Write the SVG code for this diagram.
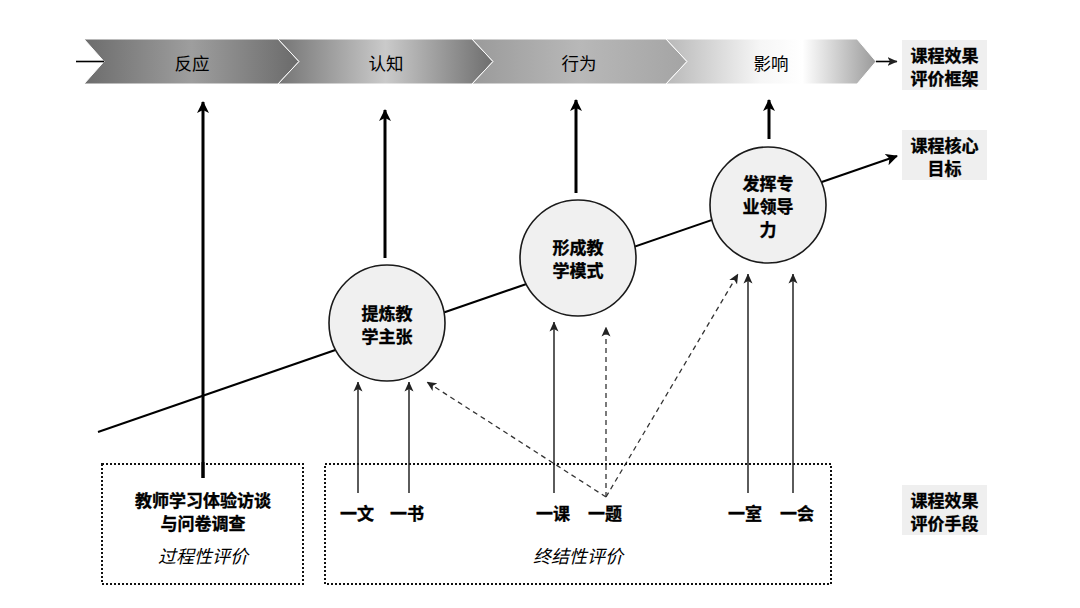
<svg xmlns="http://www.w3.org/2000/svg" width="1080" height="608" viewBox="0 0 1080 608">
<style>
.t{font-family:"Noto Sans CJK SC","Noto Sans",sans-serif;fill:#000;text-anchor:middle;dominant-baseline:central}
.b{font-weight:bold;font-size:17px;stroke:#000;stroke-width:0.35}
.n{font-size:17.5px}
.i{font-size:18px;font-style:italic}
.chev{stroke:#fff;stroke-width:1}
.circ{fill:#f0f0f0;stroke:#1a1a1a;stroke-width:1.6}
.thick{stroke:#000;stroke-width:3;fill:none}
.thin{stroke:#333;stroke-width:1.6;fill:none}
.dash{stroke:#333;stroke-width:1.3;fill:none;stroke-dasharray:5 4}
.dot{fill:none;stroke:#111;stroke-width:2;stroke-dasharray:2 2}
.lab{fill:#efefef}
</style>
<defs>
<linearGradient id="g1" x1="0" y1="0" x2="1" y2="0">
<stop offset="0" stop-color="#6c6c6c"/><stop offset="0.5" stop-color="#9e9e9e"/><stop offset="1" stop-color="#6a6a6a"/>
</linearGradient>
<linearGradient id="g2" x1="0" y1="0" x2="1" y2="0">
<stop offset="0" stop-color="#747474"/><stop offset="0.5" stop-color="#cacaca"/><stop offset="1" stop-color="#6e6e6e"/>
</linearGradient>
<linearGradient id="g3" x1="0" y1="0" x2="1" y2="0">
<stop offset="0" stop-color="#9a9a9a"/><stop offset="0.5" stop-color="#b8b8b8"/><stop offset="1" stop-color="#a4a4a4"/>
</linearGradient>
<linearGradient id="g4" x1="0" y1="0" x2="1" y2="0">
<stop offset="0" stop-color="#b8b8b8"/><stop offset="0.45" stop-color="#f6f6f6"/><stop offset="0.65" stop-color="#ffffff"/><stop offset="1" stop-color="#9a9a9a"/>
</linearGradient>
<marker id="ah" markerUnits="userSpaceOnUse" viewBox="0 0 12 12" markerWidth="12" markerHeight="12" refX="11" refY="6" orient="auto">
<path d="M0,0 L12,6 L0,12 L3,6 Z" fill="#000"/>
</marker>
<marker id="ahs" markerUnits="userSpaceOnUse" viewBox="0 0 10 10" markerWidth="10" markerHeight="10" refX="9.5" refY="5" orient="auto">
<path d="M0,0.5 L10,5 L0,9.5 L2.5,5 Z" fill="#222"/>
</marker>
</defs>
<g id="banner">
<path class="chev" d="M84,39 L278,39 L299,61.5 L278,84 L84,84 L104,61.5 Z" fill="url(#g1)"/>
<path class="chev" d="M278,39 L472,39 L493,61.5 L472,84 L278,84 L299,61.5 Z" fill="url(#g2)"/>
<path class="chev" d="M472,39 L666,39 L687,61.5 L666,84 L472,84 L493,61.5 Z" fill="url(#g3)"/>
<path class="chev" d="M666,39 L857,39 L876,61.5 L857,84 L666,84 L687,61.5 Z" fill="url(#g4)"/>
<text class="t n" x="192" y="62">反应</text>
<text class="t n" x="386" y="62">认知</text>
<text class="t n" x="579" y="62">行为</text>
<text class="t n" x="771" y="62">影响</text>
</g>
<g id="connectors">
<line x1="76" y1="61.5" x2="104" y2="61.5" stroke="#000" stroke-width="1.6"/>
<line x1="876" y1="61.5" x2="897" y2="61.5" stroke="#000" stroke-width="1.6" marker-end="url(#ahs)"/>
<line x1="98" y1="432" x2="897" y2="156" stroke="#000" stroke-width="2" marker-end="url(#ah)"/>
<line class="thick" x1="203" y1="478" x2="203" y2="102" marker-end="url(#ah)"/>
<line class="thick" x1="385" y1="258" x2="385" y2="110" marker-end="url(#ah)"/>
<line class="thick" x1="576" y1="193" x2="576" y2="100" marker-end="url(#ah)"/>
<line class="thick" x1="769" y1="139" x2="769" y2="100" marker-end="url(#ah)"/>
<line class="thin" x1="358" y1="493" x2="358" y2="382" marker-end="url(#ahs)"/>
<line class="thin" x1="409" y1="493" x2="409" y2="382" marker-end="url(#ahs)"/>
<line class="thin" x1="554" y1="493" x2="554" y2="322" marker-end="url(#ahs)"/>
<line class="thin" x1="748" y1="493" x2="748" y2="274" marker-end="url(#ahs)"/>
<line class="thin" x1="793" y1="493" x2="793" y2="274" marker-end="url(#ahs)"/>
<line class="dash" x1="606" y1="497" x2="606" y2="327" marker-end="url(#ahs)"/>
<line class="dash" x1="606" y1="497" x2="427" y2="382" marker-end="url(#ahs)"/>
<line class="dash" x1="606" y1="497" x2="738" y2="274" marker-end="url(#ahs)"/>
</g>
<g id="node-c1">
<circle class="circ" cx="387" cy="323" r="58"/>
<text class="t b" x="387" y="312">提炼教</text>
<text class="t b" x="387" y="335">学主张</text>
</g>
<g id="node-c2">
<circle class="circ" cx="578" cy="258" r="58"/>
<text class="t b" x="578" y="246">形成教</text>
<text class="t b" x="578" y="269">学模式</text>
</g>
<g id="node-c3">
<circle class="circ" cx="768" cy="205" r="58"/>
<text class="t b" x="768" y="182">发挥专</text>
<text class="t b" x="768" y="205">业领导</text>
<text class="t b" x="768" y="228">力</text>
</g>
<g id="node-box-process">
<rect class="dot" x="102" y="464" width="201" height="120"/>
<line class="thick" x1="203" y1="462" x2="203" y2="478"/>
<text class="t b" x="203" y="499">教师学习体验访谈</text>
<text class="t b" x="203" y="522">与问卷调查</text>
<text class="t i" x="203" y="555">过程性评价</text>
</g>
<g id="node-box-summative">
<rect class="dot" x="325" y="464" width="506" height="120"/>
<text class="t b" x="357" y="512">一文</text>
<text class="t b" x="407" y="512">一书</text>
<text class="t b" x="553" y="512">一课</text>
<text class="t b" x="605" y="512">一题</text>
<text class="t b" x="745" y="512">一室</text>
<text class="t b" x="797" y="512">一会</text>
<text class="t i" x="578" y="555">终结性评价</text>
</g>
<g id="node-label-framework">
<rect class="lab" x="902" y="40" width="85" height="50"/>
<text class="t b" x="944.5" y="54">课程效果</text>
<text class="t b" x="944.5" y="77">评价框架</text>
</g>
<g id="node-label-goal">
<rect class="lab" x="902" y="130" width="85" height="50"/>
<text class="t b" x="944.5" y="144">课程核心</text>
<text class="t b" x="944.5" y="167">目标</text>
</g>
<g id="node-label-means">
<rect class="lab" x="902" y="485" width="85" height="50"/>
<text class="t b" x="944.5" y="499">课程效果</text>
<text class="t b" x="944.5" y="522">评价手段</text>
</g>
</svg>
